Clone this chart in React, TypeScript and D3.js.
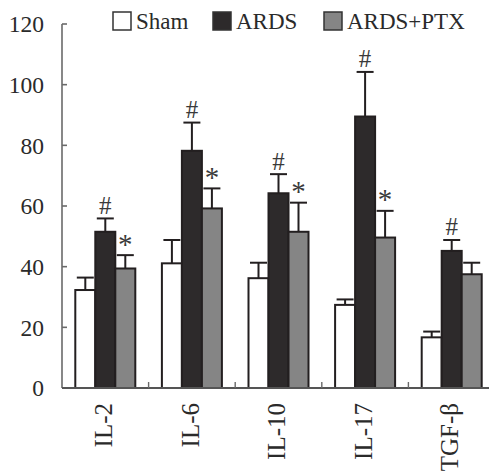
import React from 'react';
import * as d3 from 'd3';

// cytokine levels per group
const categories = ['IL-2', 'IL-6', 'IL-10', 'IL-17', 'TGF-β'];
const seriesNames = ['Sham', 'ARDS', 'ARDS+PTX'];
const shamValues = [32.3, 41.1, 36.2, 27.4, 16.7];
const shamErrors = [4.1, 7.7, 5.1, 1.8, 1.9];
const ardsValues = [51.5, 78.2, 64.2, 89.5, 45.2];
const ardsErrors = [4.4, 9.3, 6.3, 14.7, 3.6];
const ptxValues = [39.4, 59.2, 51.5, 49.6, 37.5];
const ptxErrors = [4.4, 6.6, 9.6, 8.8, 3.8];
const ardsMarks = ['#', '#', '#', '#', '#'];
const ptxMarks = ['*', '*', '*', '*', ''];
const yTicks = [0, 20, 40, 60, 80, 100, 120];

const fills = ['#ffffff', '#2d2a2b', '#858585'];
const legendX = [113, 213, 324];

const W = 489;
const H = 473;
const FONT = "'Liberation Serif', 'DejaVu Serif', serif";

export default function App() {
  const x0 = 62;
  const y = d3.scaleLinear().domain([0, 120]).range([388, 24]);
  const xBand = d3.scaleBand<string>().domain(categories).range([x0, x0 + 86.6 * 5]).padding(0);
  const xInner = d3
    .scaleBand<string>()
    .domain(seriesNames)
    .range([13.3, 13.3 + 60])
    .padding(0);

  const series = [
    { name: seriesNames[0], values: shamValues, errors: shamErrors, marks: null as string[] | null },
    { name: seriesNames[1], values: ardsValues, errors: ardsErrors, marks: ardsMarks },
    { name: seriesNames[2], values: ptxValues, errors: ptxErrors, marks: ptxMarks },
  ];

  const bw = xInner.bandwidth();
  const boundaries = categories.slice(1).map((c) => xBand(c)!);
  const txt = { fontFamily: FONT };

  return (
    <svg
      width={W}
      height={H}
      style={{ position: 'absolute', left: 0, top: 0, background: '#fff', fontFamily: FONT }}
    >
      {/* bars */}
      {series.map((s, si) =>
        categories.map((c, i) => {
          const bx = xBand(c)! + xInner(s.name)!;
          const top = y(s.values[i]);
          const errTop = y(s.values[i] + s.errors[i]);
          const cx = bx + bw / 2;
          const mark = s.marks ? s.marks[i] : '';
          return (
            <g key={`${si}-${i}`}>
              <line x1={cx} x2={cx} y1={top} y2={errTop} stroke="#231f20" strokeWidth={2} />
              <line x1={cx - 8.5} x2={cx + 8.5} y1={errTop} y2={errTop} stroke="#231f20" strokeWidth={2} />
              <rect
                x={bx}
                y={top}
                width={bw}
                height={y(0) - top}
                fill={fills[si]}
                stroke="#231f20"
                strokeWidth={2}
              />
              {mark ? (
                <text
                  x={cx}
                  y={errTop - (mark === '#' ? 4.5 : 1.5)}
                  textAnchor="middle"
                  fontSize={mark === '#' ? 25 : 29}
                  fill="#3a3a3a"
                  style={txt}
                >
                  {mark}
                </text>
              ) : null}
            </g>
          );
        })
      )}

      {/* y axis */}
      <line x1={x0} x2={x0} y1={y(120)} y2={y(0)} stroke="#6a6a6a" strokeWidth={1.6} />
      {yTicks.map((t) => (
        <g key={t}>
          <line x1={x0} x2={x0 + 5} y1={y(t)} y2={y(t)} stroke="#6a6a6a" strokeWidth={1.6} />
          <text x={44} y={y(t)} dy="0.35em" textAnchor="end" fontSize={23.5} fill="#2a2a2a" style={txt}>
            {t}
          </text>
        </g>
      ))}

      {/* x axis */}
      <line x1={x0} x2={W} y1={y(0)} y2={y(0)} stroke="#555" strokeWidth={1.8} />
      {boundaries.map((bx, i) => (
        <line key={i} x1={bx} x2={bx} y1={y(0)} y2={y(0) - 6} stroke="#6a6a6a" strokeWidth={1.4} />
      ))}
      {categories.map((c) => {
        const cx = xBand(c)! + xBand.bandwidth() / 2 - 2;
        return (
          <text
            key={c}
            transform={`translate(${cx},${y(0) + 15}) rotate(-90)`}
            dy="0.35em"
            textAnchor="end"
            fontSize={25}
            fill="#2a2a2a"
            style={txt}
          >
            {c}
          </text>
        );
      })}

      {/* legend */}
      {seriesNames.map((n, i) => (
        <g key={n}>
          <rect
            x={legendX[i]}
            y={12}
            width={18}
            height={18}
            fill={fills[i]}
            stroke="#333"
            strokeWidth={1.5}
          />
          <text x={legendX[i] + 23} y={29} fontSize={23} fill="#2a2a2a" style={txt}>
            {n}
          </text>
        </g>
      ))}
    </svg>
  );
}
